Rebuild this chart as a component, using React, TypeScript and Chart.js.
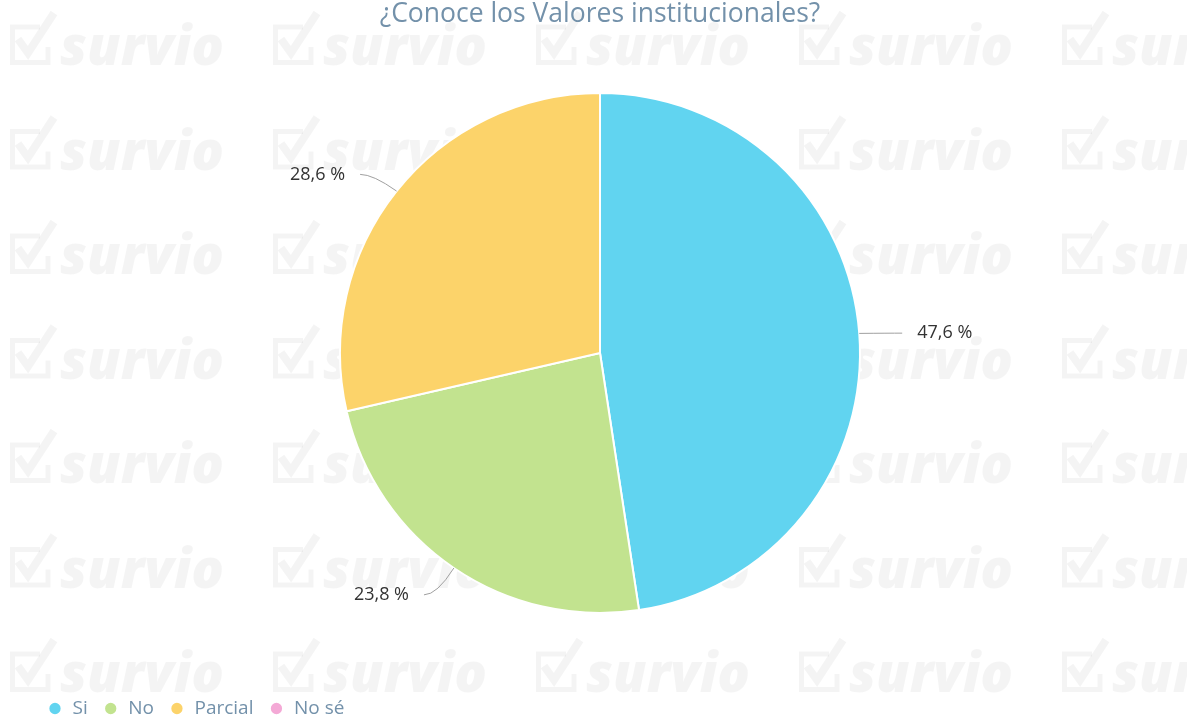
import React, { useEffect, useRef } from "react";
import { Chart, registerables } from "chart.js";

Chart.register(...registerables);

const TITLE = "¿Conoce los Valores institucionales?";
const categories = ["Si", "No", "Parcial", "No sé"];
const percentages = [47.6, 23.8, 28.6, 0];
const sliceColors = ["#61D4F0", "#C2E38F", "#FCD36A", "#F4A9D6"];

const FONT = '"Open Sans", "DejaVu Sans", sans-serif';
const TEXT_BLUE = "#7391aa";

const watermarkPlugin = {
  id: "watermark",
  beforeDraw(chart: any) {
    const ctx = chart.ctx as CanvasRenderingContext2D;
    ctx.save();
    ctx.fillStyle = "#ffffff";
    ctx.fillRect(0, 0, chart.width, chart.height);
    const col = "rgba(0,0,0,0.042)";
    ctx.fillStyle = col;
    ctx.strokeStyle = col;
    ctx.font = `italic 800 54px ${FONT}`;
    ctx.textBaseline = "alphabetic";
    for (let j = 0; j < 7; j++) {
      const by = 65 + 104.5 * j;
      for (let i = 0; i < 5; i++) {
        const x0 = 10 + 263 * i;
        ctx.lineWidth = 5;
        ctx.beginPath();
        ctx.moveTo(x0 + 30, by - 38);
        ctx.lineTo(x0 + 2.5, by - 38);
        ctx.lineTo(x0 + 2.5, by - 2.5);
        ctx.lineTo(x0 + 38, by - 2.5);
        ctx.lineTo(x0 + 38, by - 18);
        ctx.stroke();
        ctx.lineWidth = 8;
        ctx.beginPath();
        ctx.moveTo(x0 + 8, by - 26);
        ctx.lineTo(x0 + 18, by - 12);
        ctx.lineTo(x0 + 44, by - 52);
        ctx.stroke();
        ctx.fillText("survio", x0 + 50, by);
      }
    }
    ctx.restore();
  },
};

const fmt = (v: number) => `${v.toFixed(1).replace(".", ",")} %`;

const labelPlugin = {
  id: "outLabels",
  afterDatasetsDraw(chart: any) {
    const ctx = chart.ctx as CanvasRenderingContext2D;
    const meta = chart.getDatasetMeta(0);
    const data = chart.data.datasets[0].data as number[];
    ctx.save();
    meta.data.forEach((arc: any, i: number) => {
      const v = data[i];
      if (!v) return;
      const { x, y, startAngle, endAngle, outerRadius } = arc.getProps(
        ["x", "y", "startAngle", "endAngle", "outerRadius"],
        true
      );
      const mid = (startAngle + endAngle) / 2;
      const c = Math.cos(mid);
      const s = Math.sin(mid);
      const side = c >= 0 ? 1 : -1;
      const p0x = x + outerRadius * c;
      const p0y = y + outerRadius * s;
      const ax = x + (outerRadius + 30) * c;
      const ay = y + (outerRadius + 30) * s + 2;
      const ex = ax + side * 13;
      ctx.strokeStyle = "#a0a0a0";
      ctx.lineWidth = 1;
      ctx.beginPath();
      ctx.moveTo(p0x, p0y);
      ctx.quadraticCurveTo(ax, ay, ex, ay);
      ctx.stroke();
      ctx.fillStyle = "#333333";
      ctx.font = `18px ${FONT}`;
      ctx.textBaseline = "middle";
      ctx.textAlign = side > 0 ? "left" : "right";
      ctx.fillText(fmt(v), ex + side * 15, ay);
    });
    ctx.restore();
  },
};

export default function App() {
  const ref = useRef<HTMLCanvasElement | null>(null);
  useEffect(() => {
    if (!ref.current) return;
    const chart = new Chart(ref.current, {
      type: "pie",
      data: {
        labels: categories,
        datasets: [
          {
            data: percentages,
            backgroundColor: sliceColors,
            borderColor: "#ffffff",
            borderWidth: 2,
          },
        ],
      },
      options: {
        animation: false,
        responsive: false,
        radius: 260,
        layout: { padding: { left: 32, right: 19, top: 0, bottom: 0 } },
        plugins: {
          tooltip: { enabled: false },
          title: {
            display: true,
            text: TITLE,
            color: TEXT_BLUE,
            font: { family: FONT, size: 26.5, weight: "normal", lineHeight: 0.558 },
            padding: { top: 7.2, bottom: 0 },
          },
          legend: {
            display: true,
            position: "bottom",
            align: "start",
            labels: {
              usePointStyle: true,
              pointStyle: "circle",
              boxWidth: 16,
              boxHeight: 9.4,
              padding: 15,
              color: TEXT_BLUE,
              font: { family: FONT, size: 19 },
            },
          },
        },
      } as any,
      plugins: [watermarkPlugin, labelPlugin],
    });
    return () => chart.destroy();
  }, []);
  return (
    <div
      style={{
        position: "absolute",
        left: 0,
        top: 0,
        width: 1187,
        height: 717,
        overflow: "hidden",
        background: "#fff",
      }}
    >
      <canvas ref={ref} width={1187} height={728} style={{ display: "block" }} />
    </div>
  );
}
